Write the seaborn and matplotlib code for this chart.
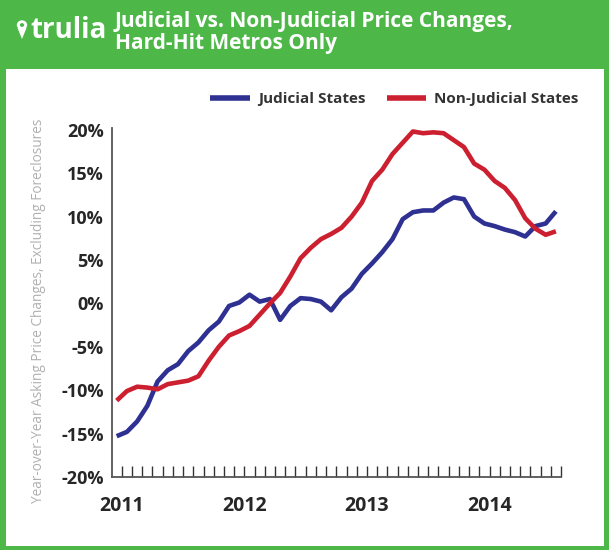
import matplotlib
matplotlib.use("Agg")
import matplotlib.pyplot as plt
import matplotlib.patches as mpatches
from matplotlib import font_manager
import pandas as pd
import seaborn as sns

# monthly values, Jan 2011 - Aug 2014
months = pd.date_range("2011-01-01", periods=44, freq="MS")
judicial = [-15.3, -14.8, -13.6, -11.8, -9.0, -7.7, -7.0, -5.5, -4.5, -3.1,
            -2.1, -0.3, 0.1, 1.0, 0.2, 0.5, -1.9, -0.3, 0.6, 0.5,
            0.2, -0.8, 0.7, 1.7, 3.4, 4.6, 5.9, 7.4, 9.7, 10.5,
            10.7, 10.7, 11.6, 12.2, 12.0, 10.0, 9.2, 8.9, 8.5, 8.2,
            7.7, 8.9, 9.2, 10.6]
non_judicial = [-11.2, -10.1, -9.6, -9.7, -9.9, -9.3, -9.1, -8.9, -8.4, -6.6,
                -5.0, -3.7, -3.2, -2.6, -1.3, 0.0, 1.2, 3.1, 5.2, 6.4,
                7.4, 8.0, 8.7, 10.0, 11.6, 14.1, 15.4, 17.2, 18.5, 19.8,
                19.6, 19.7, 19.6, 18.8, 18.0, 16.1, 15.4, 14.1, 13.3, 11.9,
                9.8, 8.6, 7.9, 8.3]
series_names = ["Judicial States", "Non-Judicial States"]
colors = ["#2e3192", "#cc1f2f"]
y_ticks = [-20, -15, -10, -5, 0, 5, 10, 15, 20]
year_labels = ["2011", "2012", "2013", "2014"]

df = pd.DataFrame({
    "idx": list(range(len(months))) * 2,
    "value": judicial + non_judicial,
    "series": [series_names[0]] * len(months) + [series_names[1]] * len(months),
})


def pick_font(names):
    for n in names:
        try:
            font_manager.findfont(n, fallback_to_default=False)
            return n
        except Exception:
            continue
    return "DejaVu Sans"


narrow = pick_font(["Liberation Sans Narrow", "Open Sans", "Roboto"])
title_font = pick_font(["Open Sans", "Liberation Sans Narrow"])

sns.set_style("white")
plt.rcParams["font.family"] = [narrow, "DejaVu Sans"]

green = "#4db848"
fig = plt.figure(figsize=(6.09, 5.5), dpi=100, facecolor=green)
fig.patches.append(mpatches.Rectangle((6 / 609, 4 / 550), 598 / 609, 477 / 550,
                                      transform=fig.transFigure,
                                      facecolor="white", edgecolor="none",
                                      zorder=-5))

ax = fig.add_axes([112 / 609, 73 / 550, 449 / 609, 349 / 550])
ax.set_zorder(2)
ax.set_facecolor("white")
sns.lineplot(data=df, x="idx", y="value", hue="series", palette=colors,
             linewidth=3.3, ax=ax, solid_capstyle="butt")

ax.set_xlim(-0.46, 43.5)
ax.set_ylim(-20, 20.2)
ax.set_yticks(y_ticks)
ax.set_yticklabels([f"{t}%" for t in y_ticks], fontsize=13, fontweight="bold")
ticks = [i + 0.5 for i in range(44)]
labels = [""] * 44
for k, lab in enumerate(year_labels):
    labels[12 * k] = lab
ax.set_xticks(ticks)
ax.set_xticklabels(labels, fontsize=14, fontweight="bold")
ax.tick_params(axis="x", bottom=True, direction="in", length=8, width=1,
               color="#333333", pad=14)
ax.tick_params(axis="y", left=False, length=0, pad=6)
for s in ["top", "right"]:
    ax.spines[s].set_visible(False)
for s in ["left", "bottom"]:
    ax.spines[s].set_color("#555555")
    ax.spines[s].set_linewidth(1.3)
ax.set_xlabel("")
ax.set_ylabel("Year-over-Year Asking Price Changes, Excluding Foreclosures",
              fontsize=9.8, color="#b0b0b0", labelpad=10)
ax.yaxis.set_label_coords(-66 / 449, 0.476)

handles, labs = ax.get_legend_handles_labels()
leg = ax.legend(handles, labs, ncol=2, frameon=False, fontsize=11,
                loc="center right", bbox_to_anchor=(592 / 609, 1 - 99 / 550),
                bbox_transform=fig.transFigure, handlelength=2.6,
                handletextpad=0.5, columnspacing=1.4)
for t in leg.get_texts():
    t.set_color("#333333")
    t.set_fontweight("bold")
for line in leg.get_lines():
    line.set_linewidth(4)

# header
fig.text(115 / 609, 1 - 21 / 550, "Judicial vs. Non-Judicial Price Changes,",
         color="white", fontsize=15, fontweight="bold", family=title_font,
         va="center", ha="left")
fig.text(115 / 609, 1 - 44 / 550, "Hard-Hit Metros Only",
         color="white", fontsize=15, fontweight="bold", family=title_font,
         va="center", ha="left")
fig.text(30 / 609, 1 - 30 / 550, "trulia", color="white", fontsize=20,
         fontweight="bold", family=title_font, va="center", ha="left")
# map pin
fig.patches.append(mpatches.Circle((22 / 609, 1 - 25 / 550), 0.0085,
                                   transform=fig.transFigure, facecolor="white",
                                   edgecolor="none"))
fig.patches.append(mpatches.Circle((22 / 609, 1 - 25 / 550), 0.0035,
                                   transform=fig.transFigure, facecolor=green,
                                   edgecolor="none"))
fig.patches.append(mpatches.Polygon([(17.5 / 609, 1 - 28 / 550),
                                     (26.5 / 609, 1 - 28 / 550),
                                     (22 / 609, 1 - 39 / 550)],
                                    transform=fig.transFigure,
                                    facecolor="white", edgecolor="none"))

fig.savefig("out.png", dpi=100, facecolor=green)
